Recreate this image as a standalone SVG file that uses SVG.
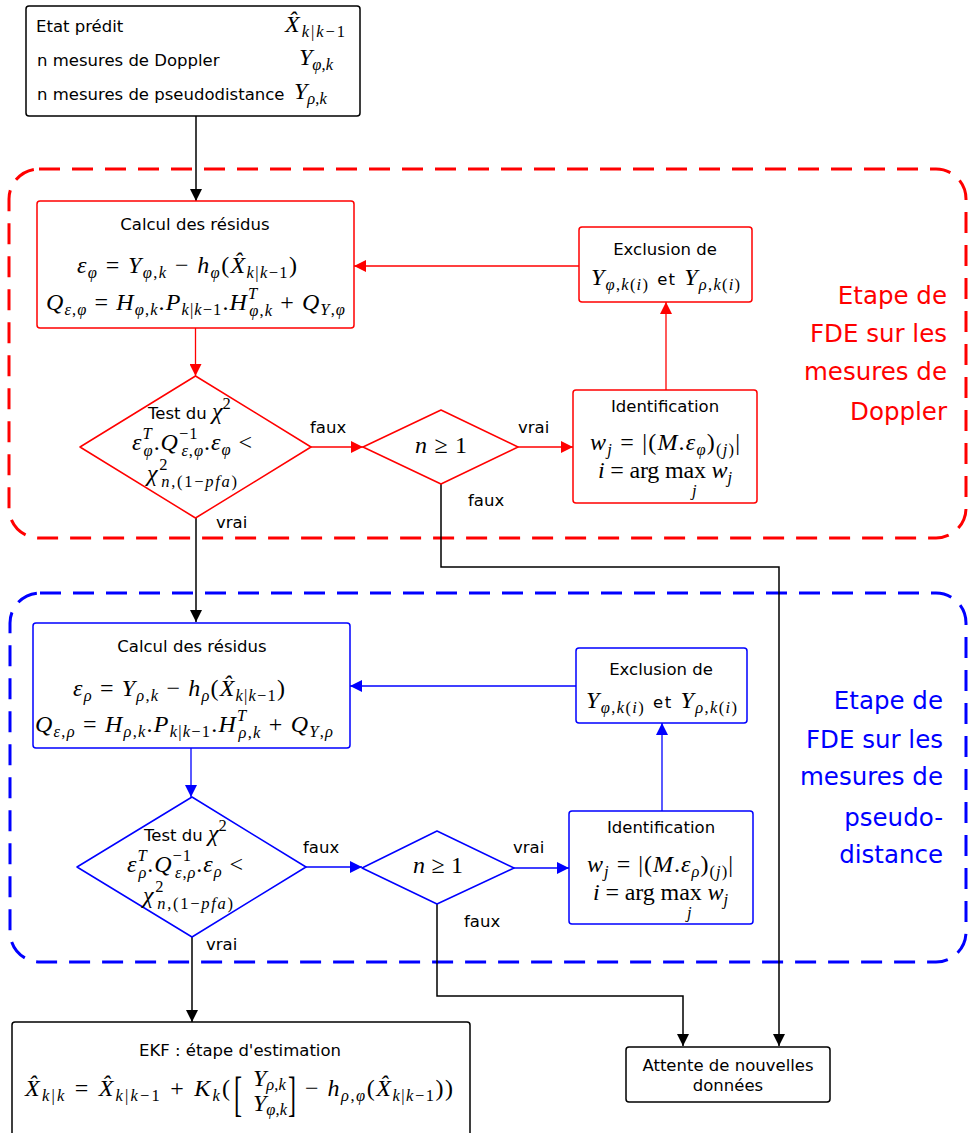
<svg xmlns="http://www.w3.org/2000/svg" width="970" height="1133" viewBox="0 0 970 1133">
<style>
.t{font-family:"DejaVu Sans",sans-serif;font-size:16.5px;fill:#000}
.m{font-family:"Liberation Serif",serif;font-size:24px;fill:#000}
.s{font-size:16.5px}
.v{font-style:italic}
.c{text-anchor:middle}
.lab{font-family:"DejaVu Sans",sans-serif;font-size:24.5px;text-anchor:end}
.nk{fill:#fff;stroke:#000;stroke-width:1.5}
.nr{fill:#fff;stroke:#f00;stroke-width:1.5}
.nb{fill:#fff;stroke:#00f;stroke-width:1.5}
.lk{fill:none;stroke:#000;stroke-width:1.5}
.lr{fill:none;stroke:#f00;stroke-width:1.3}
.lb{fill:none;stroke:#00f;stroke-width:1.3}
.dash{fill:none;stroke-width:3;stroke-dasharray:21 12}
</style>
<defs>
<marker id="ak" markerUnits="userSpaceOnUse" markerWidth="12" markerHeight="12" refX="12" refY="6" orient="auto"><path d="M0,0 L12,6 L0,12 z" fill="#000"/></marker>
<marker id="ar" markerUnits="userSpaceOnUse" markerWidth="12" markerHeight="12" refX="12" refY="6" orient="auto"><path d="M0,0 L12,6 L0,12 z" fill="#f00"/></marker>
<marker id="ab" markerUnits="userSpaceOnUse" markerWidth="12" markerHeight="12" refX="12" refY="6" orient="auto"><path d="M0,0 L12,6 L0,12 z" fill="#00f"/></marker>
</defs>

<g id="group-doppler">
<rect class="dash" x="9" y="169" width="957" height="369" rx="30" stroke="#f00"/>
<text class="lab" fill="#f00"><tspan x="947" y="304">Etape de</tspan><tspan x="947" y="342">FDE sur les</tspan><tspan x="947" y="380">mesures de</tspan><tspan x="947" y="420">Doppler</tspan></text>
</g>
<g id="group-pseudo">
<rect class="dash" x="10" y="593" width="956" height="369" rx="30" stroke="#00f"/>
<text class="lab" fill="#00f"><tspan x="943" y="709">Etape de</tspan><tspan x="943" y="748">FDE sur les</tspan><tspan x="943" y="785">mesures de</tspan><tspan x="943" y="826">pseudo-</tspan><tspan x="943" y="863">distance</tspan></text>
</g>

<g id="connectors">
<path class="lk" d="M196,116 V201" marker-end="url(#ak)"/>
<path class="lk" d="M196,518 V622" marker-end="url(#ak)"/>
<path class="lk" d="M441,484 V567 H779 V1046" marker-end="url(#ak)"/>
<path class="lk" d="M192,937 V1022" marker-end="url(#ak)"/>
<path class="lk" d="M437,904 V996 H683 V1046" marker-end="url(#ak)"/>
<path class="lr" d="M195.5,328 V376" marker-end="url(#ar)"/>
<path class="lr" d="M311,447 H363" marker-end="url(#ar)"/>
<path class="lr" d="M518,447 H573" marker-end="url(#ar)"/>
<path class="lr" d="M666,390 V302" marker-end="url(#ar)"/>
<path class="lr" d="M579,266 H354" marker-end="url(#ar)"/>
<path class="lb" d="M191,748 V797" marker-end="url(#ab)"/>
<path class="lb" d="M306,867 H362" marker-end="url(#ab)"/>
<path class="lb" d="M514,868 H569" marker-end="url(#ab)"/>
<path class="lb" d="M662,811 V723" marker-end="url(#ab)"/>
<path class="lb" d="M576,686 H350" marker-end="url(#ab)"/>
<text class="t" x="310" y="433">faux</text>
<text class="t" x="518" y="433">vrai</text>
<text class="t" x="468" y="506">faux</text>
<text class="t" x="216" y="528">vrai</text>
<text class="t" x="303" y="853">faux</text>
<text class="t" x="513" y="853">vrai</text>
<text class="t" x="464" y="927">faux</text>
<text class="t" x="206" y="950">vrai</text>
</g>

<g id="input">
<rect class="nk" x="26" y="6" width="334" height="110" rx="3"/>
<text class="t" x="36" y="32">Etat prédit</text>
<text class="t" x="37" y="66">n mesures de Doppler</text>
<text class="t" x="37" y="100">n mesures de pseudodistance</text>
<text class="m" x="285" y="32" textLength="60"><tspan class="v">X̂</tspan><tspan class="s" dy="5"><tspan class="v">k</tspan>|<tspan class="v">k</tspan>−1</tspan></text>
<text class="m" x="299" y="65"><tspan class="v">Y</tspan><tspan class="s" dy="5"><tspan class="v">φ</tspan>,<tspan class="v">k</tspan></tspan></text>
<text class="m" x="294" y="99"><tspan class="v">Y</tspan><tspan class="s" dy="5"><tspan class="v">ρ</tspan>,<tspan class="v">k</tspan></tspan></text>
</g>

<g id="residus-doppler">
<rect class="nr" x="37" y="201" width="317" height="127" rx="3"/>
<text class="t c" x="195" y="230">Calcul des résidus</text>
<text class="m" x="77" y="273" textLength="220"><tspan class="v">ε</tspan><tspan class="s v" dy="5">φ</tspan><tspan dy="-5"> = </tspan><tspan class="v">Y</tspan><tspan class="s" dy="5"><tspan class="v">φ</tspan>,<tspan class="v">k</tspan></tspan><tspan dy="-5"> − </tspan><tspan class="v">h</tspan><tspan class="s v" dy="5">φ</tspan><tspan dy="-5">(</tspan><tspan class="v">X̂</tspan><tspan class="s" dy="5"><tspan class="v">k</tspan>|<tspan class="v">k</tspan>−1</tspan><tspan dy="-5">)</tspan></text>
<text class="m" x="46" y="310" textLength="299"><tspan class="v">Q</tspan><tspan class="s" dy="5"><tspan class="v">ε</tspan>,<tspan class="v">φ</tspan></tspan><tspan dy="-5"> = </tspan><tspan class="v">H</tspan><tspan class="s" dy="5"><tspan class="v">φ</tspan>,<tspan class="v">k</tspan></tspan><tspan dy="-5">.</tspan><tspan class="v">P</tspan><tspan class="s" dy="5"><tspan class="v">k</tspan>|<tspan class="v">k</tspan>−1</tspan><tspan dy="-5">.</tspan><tspan class="v">H</tspan><tspan class="s v" dy="-11">T</tspan><tspan class="s" dx="-9" dy="17"><tspan class="v">φ</tspan>,<tspan class="v">k</tspan></tspan><tspan dy="-6"> + </tspan><tspan class="v">Q</tspan><tspan class="s" dy="5"><tspan class="v">Y</tspan>,<tspan class="v">φ</tspan></tspan></text>
</g>

<g id="test-doppler">
<polygon class="nr" points="195.5,376 311,447 195.5,518 80,447" stroke-linejoin="round"/>
<text class="t" x="148" y="419">Test du <tspan class="m v">χ</tspan><tspan class="m s" dy="-10">2</tspan></text>
<text class="m" x="132" y="450" textLength="120"><tspan class="v">ε</tspan><tspan class="s v" dy="-11">T</tspan><tspan class="s v" dx="-9" dy="17">φ</tspan><tspan dy="-6">.</tspan><tspan class="v">Q</tspan><tspan class="s" dy="-11">−1</tspan><tspan class="s" dx="-17" dy="17"><tspan class="v">ε</tspan>,<tspan class="v">φ</tspan></tspan><tspan dy="-6">.</tspan><tspan class="v">ε</tspan><tspan class="s v" dy="5">φ</tspan><tspan dy="-5"> &lt;</tspan></text>
<text class="m" x="147" y="481" textLength="90"><tspan class="v">χ</tspan><tspan class="s" dy="-11">2</tspan><tspan class="s" dx="-8" dy="17"><tspan class="v">n</tspan>,(1−<tspan class="v">pfa</tspan>)</tspan></text>
</g>

<g id="n-doppler">
<polygon class="nr" points="441,410 518,447 441,484 363,447" stroke-linejoin="round"/>
<text class="m" x="415" y="453" textLength="52"><tspan class="v">n</tspan> ≥ 1</text>
</g>

<g id="ident-doppler">
<rect class="nr" x="573" y="390" width="184" height="113" rx="3"/>
<text class="t c" x="665" y="412">Identification</text>
<text class="m" x="590" y="450" textLength="150"><tspan class="v">w</tspan><tspan class="s v" dy="5">j</tspan><tspan dy="-5"> = |(</tspan><tspan class="v">M</tspan>.<tspan class="v">ε</tspan><tspan class="s v" dy="5">φ</tspan><tspan dy="-5">)</tspan><tspan class="s" dy="5">(<tspan class="v">j</tspan>)</tspan><tspan dy="-5">|</tspan></text>
<text class="m" x="598" y="478" textLength="134"><tspan class="v">i</tspan> = arg max <tspan class="v">w</tspan><tspan class="s v" dy="5">j</tspan></text>
<text class="m s v" x="692" y="496">j</text>
</g>

<g id="exclusion-doppler">
<rect class="nr" x="579" y="227" width="173" height="75" rx="3"/>
<text class="t c" x="665" y="255">Exclusion de</text>
<text class="m" x="591" y="285" textLength="149"><tspan class="v">Y</tspan><tspan class="s" dy="5"><tspan class="v">φ</tspan>,<tspan class="v">k</tspan>(<tspan class="v">i</tspan>)</tspan><tspan class="t" dx="8" dy="-5">et</tspan><tspan class="v" dx="8">Y</tspan><tspan class="s" dy="5"><tspan class="v">ρ</tspan>,<tspan class="v">k</tspan>(<tspan class="v">i</tspan>)</tspan></text>
</g>

<g id="residus-pseudo">
<rect class="nb" x="33" y="623" width="317" height="125" rx="3"/>
<text class="t c" x="192" y="652">Calcul des résidus</text>
<text class="m" x="73" y="696" textLength="212"><tspan class="v">ε</tspan><tspan class="s v" dy="5">ρ</tspan><tspan dy="-5"> = </tspan><tspan class="v">Y</tspan><tspan class="s" dy="5"><tspan class="v">ρ</tspan>,<tspan class="v">k</tspan></tspan><tspan dy="-5"> − </tspan><tspan class="v">h</tspan><tspan class="s v" dy="5">ρ</tspan><tspan dy="-5">(</tspan><tspan class="v">X̂</tspan><tspan class="s" dy="5"><tspan class="v">k</tspan>|<tspan class="v">k</tspan>−1</tspan><tspan dy="-5">)</tspan></text>
<text class="m" x="35" y="732" textLength="298"><tspan class="v">Q</tspan><tspan class="s" dy="5"><tspan class="v">ε</tspan>,<tspan class="v">ρ</tspan></tspan><tspan dy="-5"> = </tspan><tspan class="v">H</tspan><tspan class="s" dy="5"><tspan class="v">ρ</tspan>,<tspan class="v">k</tspan></tspan><tspan dy="-5">.</tspan><tspan class="v">P</tspan><tspan class="s" dy="5"><tspan class="v">k</tspan>|<tspan class="v">k</tspan>−1</tspan><tspan dy="-5">.</tspan><tspan class="v">H</tspan><tspan class="s v" dy="-11">T</tspan><tspan class="s" dx="-9" dy="17"><tspan class="v">ρ</tspan>,<tspan class="v">k</tspan></tspan><tspan dy="-6"> + </tspan><tspan class="v">Q</tspan><tspan class="s" dy="5"><tspan class="v">Y</tspan>,<tspan class="v">ρ</tspan></tspan></text>
</g>

<g id="test-pseudo">
<polygon class="nb" points="192,797 306,867 192,937 77,867" stroke-linejoin="round"/>
<text class="t" x="144" y="841">Test du <tspan class="m v">χ</tspan><tspan class="m s" dy="-10">2</tspan></text>
<text class="m" x="127" y="872" textLength="116"><tspan class="v">ε</tspan><tspan class="s v" dy="-11">T</tspan><tspan class="s v" dx="-9" dy="17">ρ</tspan><tspan dy="-6">.</tspan><tspan class="v">Q</tspan><tspan class="s" dy="-11">−1</tspan><tspan class="s" dx="-17" dy="17"><tspan class="v">ε</tspan>,<tspan class="v">ρ</tspan></tspan><tspan dy="-6">.</tspan><tspan class="v">ε</tspan><tspan class="s v" dy="5">ρ</tspan><tspan dy="-5"> &lt;</tspan></text>
<text class="m" x="143" y="903" textLength="90"><tspan class="v">χ</tspan><tspan class="s" dy="-11">2</tspan><tspan class="s" dx="-8" dy="17"><tspan class="v">n</tspan>,(1−<tspan class="v">pfa</tspan>)</tspan></text>
</g>

<g id="n-pseudo">
<polygon class="nb" points="437,831 514,868 437,904 362,868" stroke-linejoin="round"/>
<text class="m" x="413" y="873" textLength="50"><tspan class="v">n</tspan> ≥ 1</text>
</g>

<g id="ident-pseudo">
<rect class="nb" x="569" y="811" width="184" height="113" rx="3"/>
<text class="t c" x="661" y="833">Identification</text>
<text class="m" x="587" y="872" textLength="146"><tspan class="v">w</tspan><tspan class="s v" dy="5">j</tspan><tspan dy="-5"> = |(</tspan><tspan class="v">M</tspan>.<tspan class="v">ε</tspan><tspan class="s v" dy="5">ρ</tspan><tspan dy="-5">)</tspan><tspan class="s" dy="5">(<tspan class="v">j</tspan>)</tspan><tspan dy="-5">|</tspan></text>
<text class="m" x="593" y="900" textLength="135"><tspan class="v">i</tspan> = arg max <tspan class="v">w</tspan><tspan class="s v" dy="5">j</tspan></text>
<text class="m s v" x="687" y="918">j</text>
</g>

<g id="exclusion-pseudo">
<rect class="nb" x="576" y="648" width="171" height="75" rx="3"/>
<text class="t c" x="661" y="675">Exclusion de</text>
<text class="m" x="586" y="708" textLength="151"><tspan class="v">Y</tspan><tspan class="s" dy="5"><tspan class="v">φ</tspan>,<tspan class="v">k</tspan>(<tspan class="v">i</tspan>)</tspan><tspan class="t" dx="8" dy="-5">et</tspan><tspan class="v" dx="8">Y</tspan><tspan class="s" dy="5"><tspan class="v">ρ</tspan>,<tspan class="v">k</tspan>(<tspan class="v">i</tspan>)</tspan></text>
</g>

<g id="ekf">
<rect class="nk" x="12" y="1022" width="458" height="130" rx="3"/>
<text class="t c" x="240" y="1056">EKF : étape d'estimation</text>
<text class="m" x="25" y="1096" textLength="205"><tspan class="v">X̂</tspan><tspan class="s" dy="5"><tspan class="v">k</tspan>|<tspan class="v">k</tspan></tspan><tspan dy="-5"> = </tspan><tspan class="v">X̂</tspan><tspan class="s" dy="5"><tspan class="v">k</tspan>|<tspan class="v">k</tspan>−1</tspan><tspan dy="-5"> + </tspan><tspan class="v">K</tspan><tspan class="s v" dy="5">k</tspan><tspan dy="-5">(</tspan></text>
<text class="m" transform="translate(234,1110) scale(1,2)">[</text>
<text class="m" x="253" y="1086"><tspan class="v">Y</tspan><tspan class="s" dy="4"><tspan class="v">ρ</tspan>,<tspan class="v">k</tspan></tspan></text>
<text class="m" x="253" y="1111"><tspan class="v">Y</tspan><tspan class="s" dy="4"><tspan class="v">φ</tspan>,<tspan class="v">k</tspan></tspan></text>
<text class="m" transform="translate(288,1110) scale(1,2)">]</text>
<text class="m" x="305" y="1096" textLength="148"><tspan>− </tspan><tspan class="v">h</tspan><tspan class="s" dy="5"><tspan class="v">ρ</tspan>,<tspan class="v">φ</tspan></tspan><tspan dy="-5">(</tspan><tspan class="v">X̂</tspan><tspan class="s" dy="5"><tspan class="v">k</tspan>|<tspan class="v">k</tspan>−1</tspan><tspan dy="-5">))</tspan></text>
</g>

<g id="attente">
<rect class="nk" x="626" y="1047" width="204" height="55" rx="3"/>
<text class="t c" x="728" y="1071">Attente de nouvelles</text>
<text class="t c" x="728" y="1091">données</text>
</g>
</svg>
